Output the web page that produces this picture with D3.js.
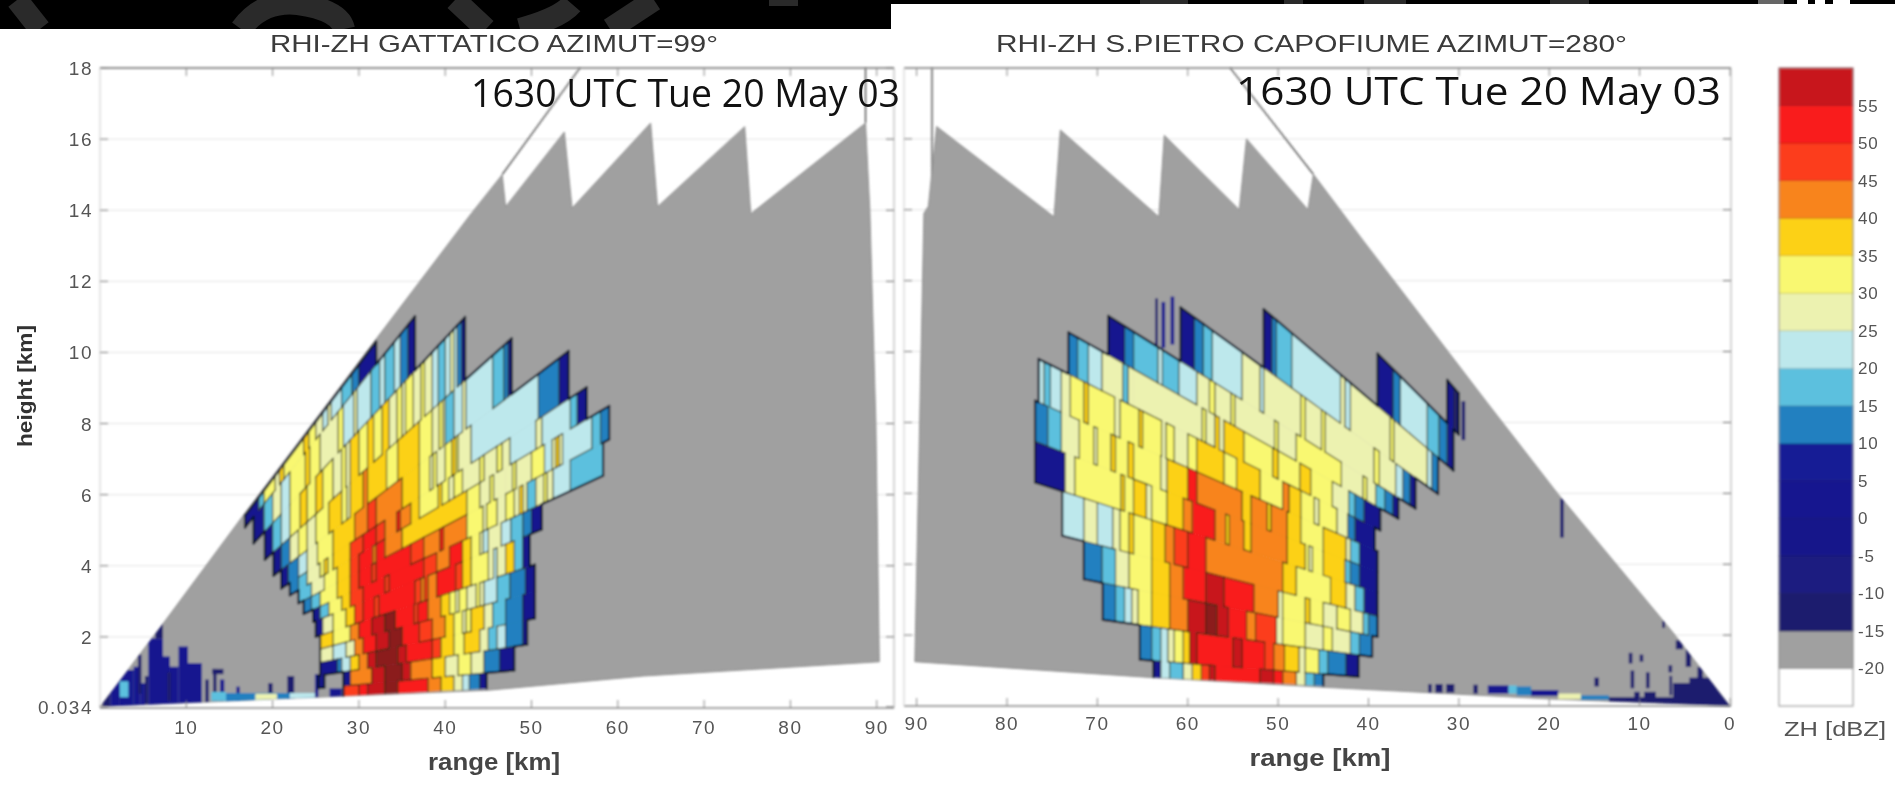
<!DOCTYPE html>
<html>
<head>
<meta charset="utf-8">
<title>RHI-ZH 1630 UTC</title>
<script src="https://cdn.jsdelivr.net/npm/d3@7"></script>
<style>
    html, body { margin: 0; padding: 0; background: #fff; overflow: hidden; }
    svg { display: block; }
    text { font-family: "Liberation Sans", Arial, sans-serif; }
</style>
</head>
<body>
<div id="chart"></div>
<script>
// COLOUR SCALE
// ----------------------------------------
const ZH_EDGES = [-20, -15, -10, -5, 0, 5, 10, 15, 20, 25, 30, 35, 40, 45, 50, 55, 60];
const ZH_COLORS = ["#ffffff", "#a0a0a0", "#1f1f6e", "#1c1c80", "#18188a", "#15188f", "#151a95", "#2080c0",
    "#5cc0de", "#bde8ec", "#ecf2b0", "#f9f871", "#fcd116", "#f8841b", "#fc3d1a", "#f91c1c", "#c8161e", "#8b1a1e"];
const ZH_TICKS = [55, 50, 45, 40, 35, 30, 25, 20, 15, 10, 5, 0, -5, -10, -15, -20];

// AXIS TICKS
// ----------------------------------------
const LEFT_RANGE_TICKS = [10, 20, 30, 40, 50, 60, 70, 80, 90];
const RIGHT_RANGE_TICKS = [0, 10, 20, 30, 40, 50, 60, 70, 80, 90];
const LEFT_HEIGHT_TICKS = [0.034, 2, 4, 6, 8, 10, 12, 14, 16, 18];
const RIGHT_HEIGHT_TICKS = [2, 4, 6, 8, 10, 12, 14, 16];

// SCANNED SECTORS: [range km, height km]
// ----------------------------------------
const leftSector = [[0, 0.034], [7.7, 2.5], [17, 5.55], [31.6, 10.25], [43, 13.9], [46.6, 15], [47, 14.1], [53.8, 16.2],
    [54.7, 14.06], [63.8, 16.45], [64.6, 14.1], [74.7, 16.35], [75.4, 13.9], [88.7, 16.45], [89.2, 14], [89.9, 8],
    [90.3, 1.3], [63, 0.9], [45, 0.5], [20, 0.25]];
const rightSector = [[0, 0], [6.4, 2.1], [19.1, 6], [27, 8.6], [40.5, 13.1], [46.1, 15], [46.7, 14], [53.5, 16], [54.3, 14],
    [62.6, 16.1], [63.2, 13.8], [74.1, 16.25], [74.8, 13.8], [87.8, 16.35], [88.7, 14.1], [89.2, 13.9], [90.2, 1.25],
    [63.8, 0.8], [45, 0.53], [20, 0.2]];
const leftRays = [[[46.6, 15], [55.6, 18]], [[88.7, 16.45], [88.7, 18]]];
const rightRays = [[[46.1, 15], [55.3, 18]], [[88.3, 14.2], [88.3, 18]]];

// ELEVATION BANDS: height / range at the band edges, high to low
// ----------------------------------------
const leftSlopes = [0.322, 0.302, 0.26, 0.218, 0.185, 0.16, 0.144, 0.128, 0.112, 0.098, 0.08, 0.065, 0.05, 0.036, 0.022, 0.0123];
const rightSlopes = [0.294, 0.255, 0.217, 0.185, 0.16, 0.144, 0.128, 0.112, 0.097, 0.082, 0.065, 0.05, 0.035, 0.02, 0.0128];

// LEFT RADAR: each pair is [range where the run starts, dBZ]; null closes a run
// ----------------------------------------
const leftA = [[16.8, 2], [18.4, 17], [19, 32], [20.3, 27], [20.8, 37], [21.3, 32], [23.6, 37], [24.2, 32], [25, 27], [25.8, 22], [26.4, 27], [26.8, 22], [28, 17], [29.2, 12], [30, 2], [32, null]];
const leftB = [[17.8, 2], [19, 17], [20, 27], [21, 22], [22, 32], [23.8, 37], [24.3, 32], [25.5, 27], [27.6, 32], [28.2, 22], [29.4, 27], [29.8, 22], [31.4, 17], [32.4, 22], [33, 17], [34.1, 22], [34.8, 12], [35.7, 2], [36.5, null]];
const leftC = [[19.1, 2], [20, 17], [21, 22], [22, 32], [23.2, 37], [24, 32], [25, 37], [25.8, 32], [27, 27], [28, 32], [28.5, 27], [29, 37], [30, 32], [31, 37], [31.7, 32], [32.7, 37], [33.5, 27], [34.4, 32], [35, 27], [35.4, 32], [36.3, 27], [37.2, 32], [37.6, 27], [38.5, 22], [39.2, 17], [40, 22], [40.6, 27], [41, 22], [41.4, 12], [41.9, 2], [42.3, null]];
const leftD = [[20.1, 2], [21, 12], [22, 27], [23, 32], [24, 27], [25, 32], [26.5, 37], [28, 32], [28.6, 27], [29, 37], [30.5, 42], [31, 37], [33.2, 32], [34.5, 37], [37, 32], [38.5, 27], [39.3, 32], [39.7, 27], [40, 17], [41, 22], [42, 27], [42.4, 22], [45.5, 17], [46.8, 12], [47.3, 2], [47.7, null]];
const leftE = [[21, 2], [21.8, 12], [23, 22], [24, 27], [25.2, 32], [27, 37], [29.5, 42], [31, 47], [32, 42], [35, 37], [37, 32], [38.2, 27], [38.6, 32], [39, 27], [40, 32], [40.8, 37], [41.2, 32], [41.5, 27], [43, 22], [50.8, 12], [53.2, 2], [54.3, null]];
const leftF = [[22, 12], [23, 17], [24, 27], [25.5, 32], [26, 37], [26.4, 32], [27, 37], [29, 47], [30.5, 52], [32, 47], [33, 42], [34.4, 52], [34.8, 42], [36, 37], [37, 32], [39.2, 37], [39.6, 32], [40.4, 27], [41, 32], [42, 27], [44, 32], [44.5, 27], [46, 32], [46.6, 27], [47.5, 22], [50.5, 27], [51.2, 22], [54.5, 17], [55.3, 2], [56.4, null]];
const leftG = [[23, 17], [24.5, 27], [26, 32], [27.5, 37], [29, 47], [30, 52], [31.6, 42], [32, 52], [33, 42], [35, 37], [42.5, 32], [44, 27], [45.2, 32], [45.6, 27], [47, 27], [47.8, 32], [48.2, 27], [50, 32], [51.5, 22], [52.4, 27], [52.8, 37], [53.2, 27], [53.6, 22], [57, 17], [58, 12], [59, null]];
const leftH = [[23.6, 12], [24.5, 17], [25.5, 32], [27.5, 37], [29, 47], [30, 52], [31.5, 47], [32, 52], [36, 47], [37.5, 42], [39.4, 52], [39.8, 42], [42.5, 32], [44.4, 27], [44.8, 32], [46, 27], [47, 32], [48, 27], [48.6, 37], [49, 27], [49.5, 17], [50.5, 27], [51.4, 32], [51.8, 27], [52.5, 22], [54.5, 17], [58.3, null]];
const leftI = [[24.7, 2], [25.5, 17], [26.5, 32], [28, 37], [29, 47], [30.5, 52], [33, 47], [33.5, 52], [37.5, 47], [39, 42], [40.5, 52], [42, 37], [43, 32], [44, 27], [44.4, 22], [45, 27], [46.5, 22], [47.6, 17], [49, 12], [50, 2], [51.2, null]];
const leftJ = [[25, 2], [25.8, 27], [27, 32], [28.5, 37], [29.5, 47], [30.5, 52], [31.8, 47], [32.3, 52], [36.5, 47], [37.2, 42], [37.6, 47], [38, 42], [39, 52], [41.2, 47], [42, 37], [43, 32], [45, 27], [45.6, 22], [46, 27], [47, 37], [48, 17], [49, 2], [49.8, null]];
const leftK = [[25.5, 37], [27, 32], [29, 42], [30, 52], [31.5, 57], [33, 62], [34.2, 52], [36.4, 47], [36.8, 52], [38, 42], [39.5, 37], [40.5, 32], [41.2, 27], [41.6, 32], [42.5, 27], [43.6, 32], [44, 27], [44.5, 22], [46, 17], [47.5, 12], [49.3, 2], [50.4, null]];
const leftL = [[25.5, 27], [27, 22], [28.5, 27], [29.5, 42], [30.5, 52], [32, 57], [33.5, 62], [35, 52], [37, 47], [38.5, 42], [40, 37], [41, 32], [42, 27], [42.4, 32], [43, 37], [44.5, 27], [45.5, 17], [47, 12], [49, 2], [50.4, null]];
const leftM = [[25.5, 2], [27.5, 12], [28, 22], [29, 37], [30, 42], [31, 57], [32, 62], [34.5, 57], [35.5, 52], [38.5, 47], [39.5, 37], [41, 32], [42.2, 37], [43, 37], [44, 27], [45, 17], [46, 22], [47, 12], [49, 2], [49.5, null]];
const leftN = [[25.3, 2], [26, null], [28.2, 2], [29, 42], [31.5, 57], [33, 62], [35, 57], [36, 42], [38.5, 37], [40, 27], [41.5, 32], [43, 27], [44.5, 12], [46.3, 2], [48, null]];
const leftO = [[28.2, 47], [30, 52], [31, 57], [33, 62], [34.5, 52], [38, 42], [39.5, 37], [41, 27], [42, 22], [42.8, 12], [44, 2], [44.8, null]];

// RIGHT RADAR
// ----------------------------------------
const rightA = [[30, -12], [30.5, 2], [31.3, null]];
const rightB = [[30.6, 2], [31.3, 12], [32.2, 17], [33.5, 22], [36.5, 12], [37.3, 2], [39, null]];
const rightC = [[32.3, 12], [33, 22], [33.5, 27], [37.2, 32], [37.6, 27], [42, 22], [42.6, 27], [43.1, 22], [48.5, 17], [50.2, 12], [50.7, 2], [51.6, null]];
const rightD = [[34.8, 2], [35.4, 12], [36.2, 22], [37, 27], [38.8, 32], [39.4, 27], [44.8, 32], [45.2, 27], [47, 32], [47.5, 27], [51.6, 22], [52, 27], [54, 22], [57.3, 17], [58.3, 12], [59.3, 2], [60.8, null]];
const rightE = [[36.7, 2], [37.3, 12], [38.2, 17], [39.2, 27], [40.2, 32], [40.6, 27], [43, 32], [48, 27], [50, 32], [50.4, 27], [54.8, 32], [55.2, 27], [57, 32], [57.6, 27], [59, 22], [61, 17], [62.8, 22], [63.3, 17], [66, 12], [67, 2], [68.8, null]];
const rightF = [[38.7, 2], [40.5, 12], [41.5, 17], [42.2, 27], [44, 32], [46.4, 37], [47.6, 32], [50, 37], [50.6, 32], [53.8, 37], [56, 27], [56.5, 37], [57, 27], [58, 32], [58.4, 27], [66, 27], [66.6, 17], [67.2, 27], [69.5, 22], [71, 17], [72.2, 12], [73.2, null]];
const rightG = [[39.3, 2], [41.5, 12], [42.3, 27], [43.5, 32], [45.5, 27], [46, 32], [47.5, 37], [48.8, 42], [49.5, 32], [52, 37], [54.6, 32], [56, 37], [59, 32], [60, 27], [61.5, 32], [62.4, 27], [62.9, 32], [65, 37], [65.4, 32], [67.5, 27], [68.1, 32], [71, 37], [71.5, 32], [73, 27], [74, 22], [75.2, 17], [75.9, 22], [76.5, null]];
const rightH = [[39, 2], [41, 17], [42, 27], [42.5, 37], [45, 32], [47.5, 37], [49, 42], [50.8, 37], [51.2, 42], [53, 37], [54, 42], [59, 52], [60, 37], [62.3, 27], [63, 32], [66, 37], [66.6, 32], [68, 37], [68.5, 32], [70, 27], [70.4, 32], [72, 27], [74, 17], [75.5, 12], [76.9, null]];
const rightI = [[39, 2], [41, 12], [42, 17], [42.6, 37], [45, 32], [46.2, 27], [46.6, 32], [47, 37], [49, 42], [53, 37], [53.8, 42], [55.4, 37], [55.8, 42], [57, 52], [59.5, 42], [60.5, 37], [62.3, 32], [64, 27], [64.6, 37], [66, 32], [67, 37], [67.4, 32], [72.5, 27], [73.6, 2], [76.9, null]];
const rightJ = [[39, 2], [40.5, 17], [41.5, 27], [42.5, 37], [44.2, 32], [48, 37], [49.5, 42], [58, 52], [60, 47], [61.5, 42], [62.5, 37], [64, 32], [66, 37], [66.5, 32], [67.5, 27], [68.3, 22], [70, 27], [71.5, 22], [73.9, null]];
const rightK = [[39, 12], [40, 17], [40.6, 27], [42, 32], [43.5, 27], [45, 32], [46.5, 37], [47, 32], [49.5, 27], [50, 42], [52.7, 52], [56, 57], [58, 52], [60.5, 42], [62, 37], [64, 32], [66.5, 27], [68, 17], [69.5, 12], [71.5, null]];
const rightL = [[39.6, 12], [41, 17], [42, 27], [44, 32], [45, 27], [47, 32], [49.5, 27], [50.2, 47], [52.5, 42], [53.5, 52], [55.5, 57], [56.8, 62], [58, 57], [60, 42], [62, 37], [64, 32], [65.5, 27], [66.2, 22], [67, 17], [68, 12], [69.4, null]];
const rightM = [[41.1, 2], [42.5, 12], [44.5, 17], [45.5, 32], [47, 27], [47.7, 37], [49.3, 42], [50.5, 47], [51.5, 52], [54, 57], [55, 52], [59, 57], [59.8, 37], [60.5, 32], [61.5, 27], [62.2, 22], [63, 17], [64, 12], [65.3, null]];
const rightN = [[45, 12], [46, 17], [47, 27], [48, 42], [49.5, 52], [50.5, 57], [52, 52], [57, 57], [57.6, 47], [58.5, 37], [59.5, 27], [60.5, 17], [62, 22], [63, 2], [63.8, null]];

// ISOLATED ECHOES: [range from, range to, height from, height to, dBZ]
// ----------------------------------------
const leftEchoes = [[0.3, 1.2, 0, 0.5, -12], [1.2, 2.3, 0.02, 0.8, 2], [2.3, 3.9, 0.03, 1.07, 2], [3.9, 4.7, 0.03, 1.16, 2], [4.7, 5.2, 0.05, 0.7, 2],
    [2.3, 3.3, 0.3, 0.75, 17], [5.6, 7.3, 0.08, 1.96, 2], [6.4, 7.3, 1.96, 2.47, -12], [7.3, 8.1, 0.08, 1.45, 2], [8.1, 9.1, 0.1, 1.16, 2],
    [9.1, 10.2, 0.1, 1.73, 2], [10.2, 11.8, 0.12, 1.26, 2], [4.4, 4.8, 0.4, 1.5, -12], [5.2, 5.6, 0.1, 0.9, -12],
    [7.8, 8.2, 0.2, 1.0, -12], [12.2, 12.6, 0.15, 0.8, -12], [13, 14.3, 0.95, 1.1, -12],
    [13.1, 13.5, 0.2, 1.1, -12], [13.9, 14.4, 0.2, 0.8, 2], [12.9, 14.6, 0.2, 0.45, 17], [15.8, 16.2, 0.2, 0.6, 2],
    [19.5, 20, 0.2, 0.7, -12], [21.7, 22.5, 0.2, 0.9, -12], [14.6, 25, 0.15, 0.42, 12], [18, 20.5, 0.18, 0.4, 27],
    [22, 25, 0.2, 0.42, 22], [24.9, 25.3, 0.3, 0.95, 2], [26.6, 28, 0.3, 0.55, 2]];
const rightEchoes = [[33, 33.4, 0.38, 0.62, -12], [31.8, 32.6, 0.38, 0.62, -12], [30.5, 31.4, 0.38, 0.62, -12], [27.9, 28.4, 0.35, 0.6, -12],
    [24.5, 26.8, 0.35, 0.58, 2], [23.6, 24.5, 0.35, 0.58, 17], [22, 23.6, 0.3, 0.55, 12], [19, 22, 0.28, 0.45, 2],
    [16.5, 19, 0.2, 0.35, 27], [13.4, 16.5, 0.18, 0.3, 12], [1, 13.4, 0.02, 0.25, -12], [14.5, 15, 0.55, 0.8, -12],
    [10.8, 11.2, 1.2, 1.5, -12], [9.6, 10, 1.25, 1.45, -12], [10.6, 11, 0.5, 1, -12], [8.9, 9.3, 0.5, 0.95, -12],
    [6.4, 6.8, 0.95, 1.15, -12], [6.4, 6.7, 0.3, 0.85, -12], [10, 10.6, 0.2, 0.4, -12], [8.2, 9.5, 0.2, 0.4, -12],
    [5.2, 6, 1.6, 1.85, -12], [4.3, 4.9, 1.1, 1.6, -12], [3, 3.6, 0.7, 1.1, -12], [4, 6.3, 0.1, 0.65, -12],
    [1.5, 4.5, 0.05, 0.8, -12], [0, 2.5, 0, 0.8, -12], [18.4, 18.8, 4.75, 5.85, -12], [7.2, 7.5, 2.2, 2.4, -12],
    [61.5, 61.9, 10.2, 11.55, 2], [62.5, 62.9, 10.1, 11.4, 2], [63.3, 63.6, 10, 11.5, -12], [29.3, 29.7, 7.5, 8.6, -12]];

// BLACK STRIP AT THE TOP OF THE PAGE (cropped slide header)
// ----------------------------------------
const stripGlyphs = ["M17,0 L40,29", "M241,29 Q262,0 298,4 Q340,10 344,29", "M455,0 L486,29", "M572,4 Q560,18 520,29", "M654,0 L610,29"];
const stripPatches = [[769, 798, 0, 6, "#2a2a2a"], [1140, 1188, 0, 4, "#2a2a2a"], [1284, 1303, 0, 4, "#2a2a2a"], [1364, 1406, 0, 4, "#2a2a2a"],
    [1550, 1589, 0, 4, "#2a2a2a"], [1758, 1784, 0, 4, "#666666"], [1797, 1808, 0, 4, "#ffffff"], [1815, 1825, 0, 4, "#ffffff"], [1833, 1850, 0, 4, "#ffffff"]];

// SETUP
// ----------------------------------------
const WIDTH = 1895;
const HEIGHT = 785;
const zhColor = d3.scaleThreshold().domain(ZH_EDGES).range(ZH_COLORS);

const svg = d3.select("#chart").append("svg")
    .attr("width", WIDTH)
    .attr("height", HEIGHT);

const defs = svg.append("defs");
defs.append("filter").attr("id", "soft")
    .attr("x", "-5%").attr("y", "-5%").attr("width", "110%").attr("height", "110%")
    .append("feGaussianBlur").attr("stdDeviation", 0.8);
defs.append("filter").attr("id", "softText")
    .attr("x", "-10%").attr("y", "-30%").attr("width", "120%").attr("height", "160%")
    .append("feGaussianBlur").attr("stdDeviation", 0.6);

// HELPER FUNCTIONS
// ----------------------------------------
function valueAt(band, r) {
    if (!band) return null;
    for (let j = 0; j < band.length - 1; j++) {
        if (r >= band[j][0] && r < band[j + 1][0]) return band[j][1];
    }
    return null;
}

// Contour lines: only where two neighbouring runs fall in different colour classes
function buildEdges(bands, slopes) {
    const edges = [];
    const cls = v => (v === null ? null : zhColor(v));

    bands.forEach((band, i) => {
        band.forEach((run, j) => {
            const before = j > 0 ? band[j - 1][1] : null;
            if (cls(before) === cls(run[1])) return;
            const r = run[0];
            edges.push({
                outer: before === null || run[1] === null,
                points: [[r, slopes[i + 1] * r], [r, slopes[i] * r]]
            });
        });
    });

    // The lowest beam edge has no contour line in the reference
    slopes.slice(0, -1).forEach((s, k) => {
        const upper = bands[k - 1];
        const lower = bands[k];
        const breaks = Array.from(new Set([].concat(upper || [], lower || []).map(d => d[0]))).sort(d3.ascending);
        d3.pairs(breaks).forEach(([r0, r1]) => {
            const a = valueAt(upper, (r0 + r1) / 2);
            const b = valueAt(lower, (r0 + r1) / 2);
            if (cls(a) === cls(b)) return;
            edges.push({
                outer: a === null || b === null,
                points: [[r0, s * r0], [r1, s * r1]]
            });
        });
    });
    return edges;
}

// MAIN FUNCTIONS
// ----------------------------------------
function drawStrip() {
    const strip = svg.append("g");
    strip.append("rect").attr("width", 891).attr("height", 29).attr("fill", "#000");
    strip.append("rect").attr("width", WIDTH).attr("height", 4).attr("fill", "#000");
    strip.selectAll("path").data(stripGlyphs).enter().append("path")
        .attr("d", d => d)
        .attr("fill", "none")
        .attr("stroke", "#2a2a2a")
        .attr("stroke-width", 22)
        .attr("clip-path", "url(#stripClip)");
    defs.append("clipPath").attr("id", "stripClip")
        .append("rect").attr("width", 891).attr("height", 29);
    strip.selectAll("rect.patch").data(stripPatches).enter().append("rect")
        .attr("class", "patch")
        .attr("x", d => d[0]).attr("y", d => d[2])
        .attr("width", d => d[1] - d[0]).attr("height", d => d[3] - d[2])
        .attr("fill", d => d[4]);
}

function drawPanel(cfg) {
    const x = d3.scaleLinear().domain(cfg.rangeDomain).range(cfg.xRange);
    const y = d3.scaleLinear().domain([0, 18]).range(cfg.yRange);
    const line = d3.line().x(d => x(d[0])).y(d => y(d[1]));

    const [left, right] = cfg.frameX;
    const [bottom, top] = cfg.yRange;

    // Horizontal grid, under everything
    const grid = svg.append("g").attr("filter", "url(#soft)");
    grid.selectAll("line").data(cfg.heightTicks.filter(d => d > 1)).enter().append("line")
        .attr("x1", left).attr("x2", right)
        .attr("y1", d => y(d)).attr("y2", d => y(d))
        .attr("stroke", "#d4d4d4").attr("stroke-width", 1).attr("stroke-dasharray", "2,1");

    const plot = svg.append("g").attr("filter", "url(#soft)");

    // Gray sector and the beam edges above it
    plot.selectAll("path.ray").data(cfg.rays).enter().append("path")
        .attr("class", "ray").attr("d", line)
        .attr("fill", "none").attr("stroke", "#333").attr("stroke-width", 1.2);
    plot.append("path")
        .attr("d", line(cfg.sector) + "Z")
        .attr("fill", zhColor(-17))
        .attr("stroke", "#808080").attr("stroke-width", 0.8);

    defs.append("clipPath").attr("id", cfg.id + "Clip")
        .append("path").attr("d", line(cfg.sector) + "Z");

    // One polygon per run of range bins, between two beam elevations
    const cells = [];
    cfg.bands.forEach((band, i) => {
        const high = cfg.slopes[i];
        const low = cfg.slopes[i + 1];
        band.forEach((run, j) => {
            if (run[1] === null) return;
            const r0 = run[0];
            const r1 = band[j + 1][0];
            cells.push({ value: run[1], points: [[r0, low * r0], [r1, low * r1], [r1, high * r1], [r0, high * r0]] });
        });
    });

    const echoes = plot.append("g").attr("clip-path", `url(#${cfg.id}Clip)`);
    echoes.selectAll("rect").data(cfg.echoes).enter().append("rect")
        .attr("x", d => Math.min(x(d[0]), x(d[1])))
        .attr("width", d => Math.abs(x(d[1]) - x(d[0])))
        .attr("y", d => y(d[3]))
        .attr("height", d => y(d[2]) - y(d[3]))
        .attr("fill", d => zhColor(d[4]));

    plot.append("g").selectAll("path").data(cells).enter().append("path")
        .attr("d", d => line(d.points) + "Z")
        .attr("fill", d => zhColor(d.value))
        .attr("stroke", d => zhColor(d.value)).attr("stroke-width", 0.5);

    plot.append("g").selectAll("path").data(buildEdges(cfg.bands, cfg.slopes)).enter().append("path")
        .attr("d", d => line(d.points))
        .attr("fill", "none")
        .attr("stroke", d => (d.outer ? "#0a1428" : "#2e2e14"))
        .attr("stroke-opacity", d => (d.outer ? 1 : 0.85))
        .attr("stroke-width", d => (d.outer ? 2.2 : 1.2))
        .attr("stroke-linecap", "round");

    // Frame and ticks
    const axes = svg.append("g").attr("filter", "url(#soft)");
    axes.append("line").attr("x1", left).attr("x2", right).attr("y1", top).attr("y2", top)
        .attr("stroke", "#777").attr("stroke-width", 1.6);
    axes.append("line").attr("x1", left).attr("x2", right).attr("y1", bottom).attr("y2", bottom)
        .attr("stroke", "#888").attr("stroke-width", 1.6);
    axes.append("line").attr("x1", left).attr("x2", left).attr("y1", top).attr("y2", bottom)
        .attr("stroke", "#ccc");
    axes.append("line").attr("x1", right).attr("x2", right).attr("y1", top).attr("y2", bottom)
        .attr("stroke", "#aaa");

    const tickX = axes.selectAll("g.tx").data(cfg.rangeTicks).enter().append("g").attr("class", "tx");
    tickX.append("line").attr("x1", d => x(d)).attr("x2", d => x(d)).attr("y1", bottom).attr("y2", bottom - 8)
        .attr("stroke", "#888");
    tickX.append("line").attr("x1", d => x(d)).attr("x2", d => x(d)).attr("y1", top).attr("y2", top + 8)
        .attr("stroke", "#888");

    const tickY = axes.selectAll("g.ty").data(cfg.heightTicks).enter().append("g").attr("class", "ty");
    tickY.append("line").attr("x1", left).attr("x2", left + 8).attr("y1", d => y(d)).attr("y2", d => y(d))
        .attr("stroke", "#888");
    tickY.append("line").attr("x1", right).attr("x2", right - 8).attr("y1", d => y(d)).attr("y2", d => y(d))
        .attr("stroke", "#777");

    // Labels
    const labels = svg.append("g").attr("filter", "url(#softText)").attr("fill", "#555");
    labels.append("g").selectAll("text").data(cfg.rangeTicks).enter().append("text")
        .attr("x", d => x(d))
        .attr("y", cfg.tickLabelY)
        .attr("text-anchor", "middle")
        .attr("font-size", 19)
        .attr("letter-spacing", 1.5)
        .text(d => d);
    if (cfg.showHeightLabels) {
        labels.append("g").selectAll("text").data(cfg.heightTicks).enter().append("text")
            .attr("x", left - 7)
            .attr("y", d => y(d) + 7)
            .attr("text-anchor", "end")
            .attr("font-size", 19)
            .attr("letter-spacing", 1.5)
            .text(d => d);
        labels.append("text")
            .attr("transform", "translate(32,386) rotate(-90)")
            .attr("text-anchor", "middle")
            .attr("textLength", 122)
            .attr("lengthAdjust", "spacingAndGlyphs")
            .attr("fill", "#333")
            .attr("font-size", 21)
            .attr("font-weight", "bold")
            .text("height [km]");
    }
    labels.append("text")
        .attr("x", cfg.xTitleX - cfg.xTitleWidth / 2).attr("y", cfg.xTitleY)
        .attr("textLength", cfg.xTitleWidth)
        .attr("lengthAdjust", "spacingAndGlyphs")
        .attr("fill", "#444")
        .attr("font-size", 23)
        .attr("font-weight", "bold")
        .text("range [km]");
    labels.append("text")
        .attr("x", cfg.titleX[0]).attr("y", 52)
        .attr("textLength", cfg.titleX[1] - cfg.titleX[0])
        .attr("lengthAdjust", "spacingAndGlyphs")
        .attr("fill", "#3a3a3a")
        .attr("font-size", 24)
        .text(cfg.title);

    svg.append("text")
        .attr("x", cfg.stampX[0]).attr("y", cfg.stampY)
        .attr("textLength", cfg.stampX[1] - cfg.stampX[0])
        .attr("lengthAdjust", "spacingAndGlyphs")
        .attr("fill", "#111")
        .attr("font-size", 39)
        .attr("style", "font-family:'Open Sans',sans-serif")
        .text("1630 UTC Tue 20 May 03");
}

function drawColorBar() {
    const y = d3.scaleLinear().domain([-25, 60]).range([706, 68]);
    const edges = [-25].concat(ZH_EDGES);
    const bar = svg.append("g").attr("filter", "url(#soft)");
    bar.selectAll("rect").data(edges.slice(0, -1)).enter().append("rect")
        .attr("x", 1779).attr("width", 74)
        .attr("y", d => y(d + 5))
        .attr("height", d => y(d) - y(d + 5))
        .attr("fill", d => zhColor(d + 1))
        .attr("stroke", d => d3.color(zhColor(d + 1)).darker(0.5))
        .attr("stroke-width", 0.8);
    bar.append("rect")
        .attr("x", 1779).attr("y", 68).attr("width", 74).attr("height", 638)
        .attr("fill", "none").attr("stroke", "#999").attr("stroke-width", 1);

    const labels = svg.append("g").attr("filter", "url(#softText)").attr("fill", "#555");
    labels.selectAll("text.zh").data(ZH_TICKS).enter().append("text")
        .attr("class", "zh")
        .attr("x", 1858)
        .attr("y", d => y(d) + 6)
        .attr("font-size", 17)
        .attr("letter-spacing", 0.8)
        .text(d => d);
    labels.append("text")
        .attr("x", 1784).attr("y", 736)
        .attr("textLength", 102)
        .attr("lengthAdjust", "spacingAndGlyphs")
        .attr("font-size", 20)
        .text("ZH [dBZ]");
}

// INIT
// ----------------------------------------
drawPanel({
    id: "left",
    rangeDomain: [0, 92],
    xRange: [100, 894],
    yRange: [708, 68],
    frameX: [100, 894],
    sector: leftSector,
    rays: leftRays,
    slopes: leftSlopes,
    bands: [leftA, leftB, leftC, leftD, leftE, leftF, leftG, leftH, leftI, leftJ, leftK, leftL, leftM, leftN, leftO],
    echoes: leftEchoes,
    rangeTicks: LEFT_RANGE_TICKS,
    heightTicks: LEFT_HEIGHT_TICKS,
    showHeightLabels: true,
    tickLabelY: 734,
    xTitleX: 494,
    xTitleY: 770,
    xTitleWidth: 132,
    title: "RHI-ZH GATTATICO AZIMUT=99°",
    titleX: [270, 718],
    stampX: [471, 900],
    stampY: 107
});

drawPanel({
    id: "right",
    rangeDomain: [91.4, 0],
    xRange: [904, 1730],
    yRange: [706, 68],
    frameX: [904, 1731],
    sector: rightSector,
    rays: rightRays,
    slopes: rightSlopes,
    bands: [rightA, rightB, rightC, rightD, rightE, rightF, rightG, rightH, rightI, rightJ, rightK, rightL, rightM, rightN],
    echoes: rightEchoes,
    rangeTicks: RIGHT_RANGE_TICKS,
    heightTicks: RIGHT_HEIGHT_TICKS,
    showHeightLabels: false,
    tickLabelY: 730,
    xTitleX: 1320,
    xTitleY: 766,
    xTitleWidth: 141,
    title: "RHI-ZH S.PIETRO CAPOFIUME AZIMUT=280°",
    titleX: [996, 1627],
    stampX: [1236, 1721],
    stampY: 105
});

drawColorBar();
drawStrip();
</script>
</body>
</html>
